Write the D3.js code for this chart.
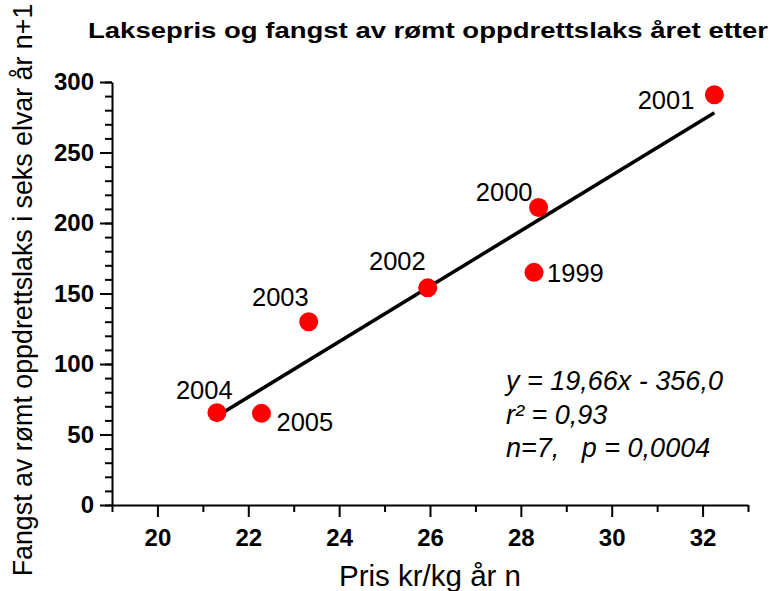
<!DOCTYPE html>
<html>
<head>
<meta charset="utf-8" />
<title>Laksepris og fangst</title>
<script src="https://cdnjs.cloudflare.com/ajax/libs/d3/7.8.5/d3.min.js"></script>
<style>
	body { margin: 0; background: #fff; }
	text { font-family: "Liberation Sans", Arial, sans-serif; }
	.axis path, .axis line { stroke: #000; stroke-width: 2; }
	.axis text { font-size: 24px; font-weight: bold; fill: #000; }
	.lbl { font-size: 25.5px; fill: #000; }
	.stat { font-size: 27px; font-style: italic; fill: #000; }
</style>
</head>
<body>
<script>
// data
var years  = ["1999", "2000", "2001", "2002", "2003", "2004", "2005"];
var price  = [28.29, 28.39, 32.26, 25.95, 23.33, 21.31, 22.29];   // kr/kg year n
var catch1 = [165, 211, 291, 154, 130, 65.5, 65];                 // fangst year n+1
var xTicks = [20, 22, 24, 26, 28, 30, 32];
var yTicks = [0, 50, 100, 150, 200, 250, 300];
var slope = 19.66, intercept = -356.0;
var statLines = ["y = 19,66x - 356,0", "r\u00b2 = 0,93", "n=7,\u00a0\u00a0 p = 0,0004"];

// label placement relative to its dot (layout only)
var labelPos = {
	"1999": [13, 10, "start"],
	"2000": [-6, -6, "end"],
	"2001": [-20, 14, "end"],
	"2002": [-2, -18, "end"],
	"2003": [0, -16, "end"],
	"2004": [-41, -14, "start"],
	"2005": [15, 18, "start"]
};

var w = 776, h = 591;
var svg = d3.select("body").append("svg").attr("width", w).attr("height", h);

var x = d3.scaleLinear().domain([19, 33]).range([112, 748]);
var y = d3.scaleLinear().domain([0, 300]).range([505, 82]);

// minor ticks first
svg.append("g").attr("class", "axis")
	.attr("transform", "translate(0,505)")
	.call(d3.axisBottom(x).tickValues(d3.range(19, 34, 2)).tickSize(7).tickFormat(""))
	.select(".domain").remove();
svg.append("g").attr("class", "axis")
	.attr("transform", "translate(112,0)")
	.call(d3.axisLeft(y).tickValues(d3.range(0, 301, 10)).tickSize(7).tickFormat(""))
	.select(".domain").remove();

// major axes
svg.append("g").attr("class", "axis")
	.attr("transform", "translate(0,505)")
	.call(d3.axisBottom(x).tickValues(xTicks).tickSize(12).tickSizeOuter(0).tickPadding(12));
svg.append("g").attr("class", "axis")
	.attr("transform", "translate(112,0)")
	.call(d3.axisLeft(y).tickValues(yTicks).tickSize(12).tickSizeOuter(0).tickPadding(6));

// regression line over the data range
var xr = d3.extent(price);
svg.append("line")
	.attr("x1", x(xr[0])).attr("y1", y(slope * xr[0] + intercept))
	.attr("x2", x(xr[1])).attr("y2", y(slope * xr[1] + intercept))
	.attr("stroke", "#000").attr("stroke-width", 3.5);

var pts = years.map(function(d, i) { return { year: d, px: price[i], cy: catch1[i] }; });

svg.selectAll("circle.dot").data(pts).enter().append("circle")
	.attr("class", "dot")
	.attr("cx", function(d) { return x(d.px); })
	.attr("cy", function(d) { return y(d.cy); })
	.attr("r", 9.5)
	.attr("fill", "#ff0000");

svg.selectAll("text.lbl").data(pts).enter().append("text")
	.attr("class", "lbl")
	.attr("x", function(d) { return x(d.px) + labelPos[d.year][0]; })
	.attr("y", function(d) { return y(d.cy) + labelPos[d.year][1]; })
	.attr("text-anchor", function(d) { return labelPos[d.year][2]; })
	.text(function(d) { return d.year; });

// statistics
svg.selectAll("text.stat").data(statLines).enter().append("text")
	.attr("class", "stat")
	.attr("x", 506)
	.attr("y", function(d, i) { return 390 + i * 33.5; })
	.text(function(d) { return d; });

// titles
svg.append("text")
	.attr("x", 88).attr("y", 38)
	.attr("textLength", 680).attr("lengthAdjust", "spacingAndGlyphs")
	.style("font-size", "22px").style("font-weight", "bold")
	.text("Laksepris og fangst av rømt oppdrettslaks året etter");

svg.append("text")
	.attr("x", 430).attr("y", 586)
	.attr("text-anchor", "middle")
	.style("font-size", "29.5px")
	.text("Pris kr/kg år n");

svg.append("text")
	.attr("transform", "translate(32,290) rotate(-90)")
	.attr("text-anchor", "middle")
	.style("font-size", "26.8px")
	.text("Fangst av rømt oppdrettslaks i seks elvar år n+1");
</script>
</body>
</html>
